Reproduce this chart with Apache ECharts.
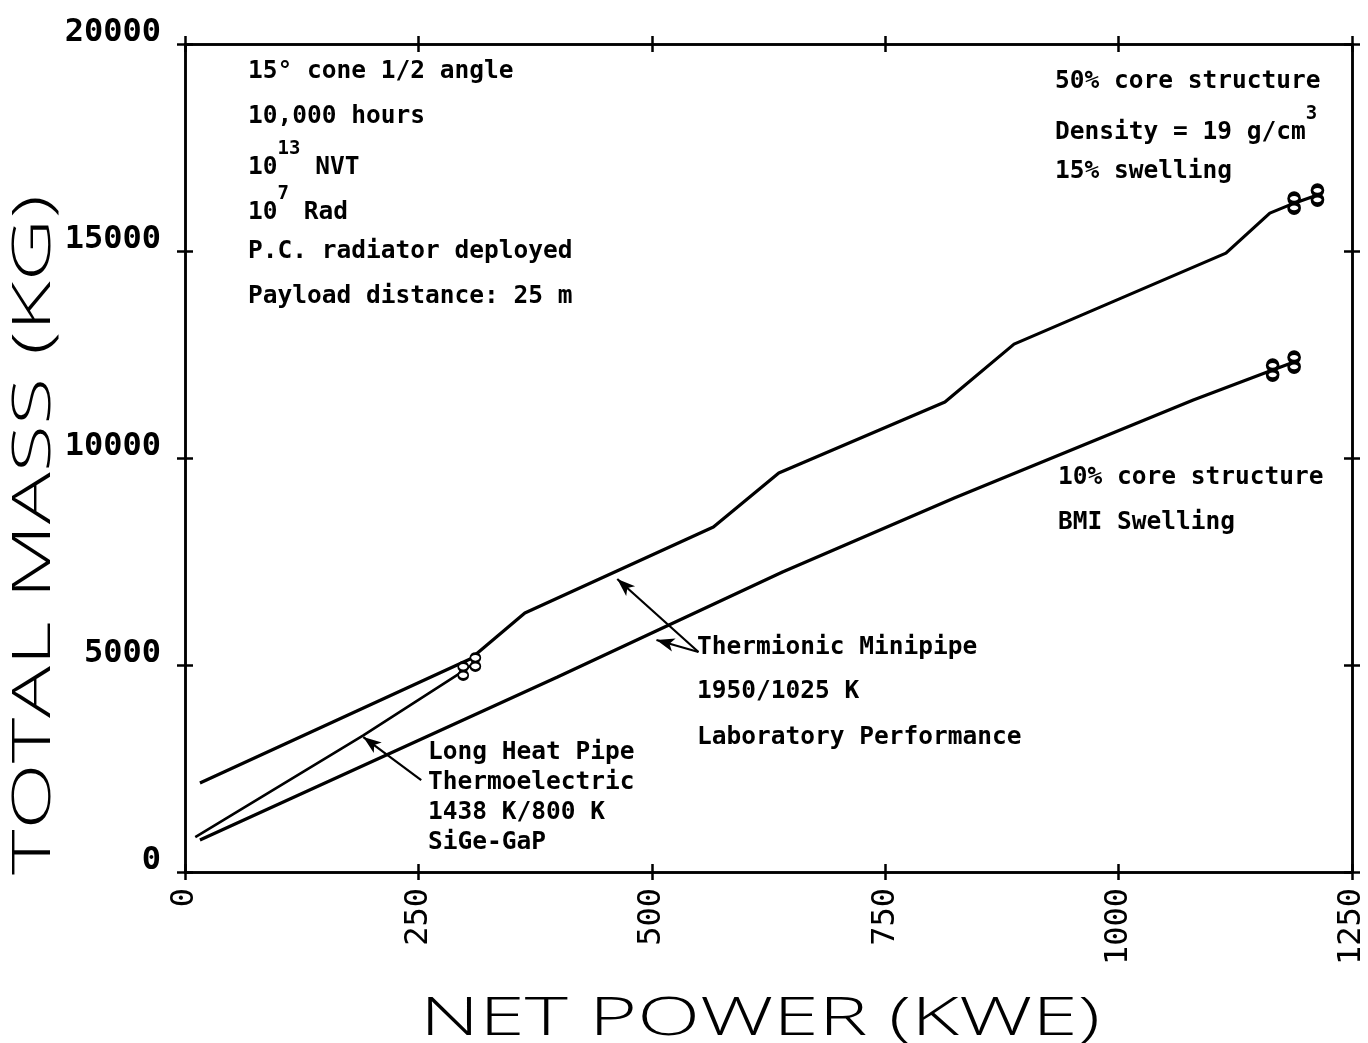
<!DOCTYPE html>
<html>
<head>
<meta charset="utf-8">
<script src="https://cdn.jsdelivr.net/npm/echarts@6/dist/echarts.min.js"></script>
<style>
html,body{margin:0;padding:0;background:#fff;}
#chart{width:1368px;height:1043px;}
</style>
</head>
<body>
<div id="chart"></div>
<script>
// ---- data ----
const xTicks = [0, 250, 500, 750, 1000, 1250];
const yTicks = [0, 5000, 10000, 15000, 20000];

// Thermionic Minipipe, 50% core structure, 15% swelling
const thermio50X = [16, 306, 364, 566, 636, 814, 888, 1115, 1162, 1188, 1213];
const thermio50Y = [2150, 5150, 6255, 8332, 9636, 11351, 12751, 14949, 15915, 16156, 16350];

// Thermionic Minipipe, 10% core structure, BMI swelling
const thermio10X = [16, 399, 640, 824, 1080, 1165, 1188];
const thermio10Y = [773, 4709, 7245, 9032, 11399, 12123, 12317];

// Long Heat Pipe Thermoelectric
const heatPipeX = [11, 191, 298, 311];
const heatPipeY = [845, 3300, 4854, 5071];

// arrows [fromX, fromY, toX, toY] in data units
const arrowHeatPipe = [253, 2222, 191, 3260];
const arrowThermA = [550, 5313, 463, 7076];
const arrowThermB = [550, 5313, 505, 5603];

// ---- chart ----
const chart = echarts.init(document.getElementById('chart'));
const EIGHT = 'path://M0,5A5,5,0,1,1,10,5A5,5,0,1,1,0,5ZM0,15A5,5,0,1,1,10,15A5,5,0,1,1,0,15Z';

function buildData(xs, ys, markLast, size, bw) {
  return xs.map((x, i) => {
    const item = { value: [x, ys[i]] };
    if (i >= xs.length - markLast) {
      item.symbol = EIGHT;
      item.symbolSize = size;
      item.itemStyle = { color: '#fff', borderColor: '#000', borderWidth: bw };
    }
    return item;
  });
}

const MONO = '"DejaVu Sans Mono", monospace';
const axisLineStyle = { color: '#000', width: 2.5 };
const plain = v => String(v);

function xAx(pos, inside, labels) {
  return {
    type: 'value', position: pos, min: xTicks[0], max: xTicks[xTicks.length - 1], interval: 250,
    axisLine: { show: true, onZero: false, lineStyle: axisLineStyle },
    axisTick: { show: true, inside: inside, length: 8, lineStyle: { color: '#000', width: 2.5 } },
    splitLine: { show: false },
    axisLabel: labels ? { show: true, rotate: 90, fontSize: 32, fontFamily: MONO, color: '#000', margin: 16, formatter: plain } : { show: false }
  };
}
function yAx(pos, inside, labels) {
  return {
    type: 'value', position: pos, min: yTicks[0], max: yTicks[yTicks.length - 1], interval: 5000,
    axisLine: { show: true, onZero: false, lineStyle: axisLineStyle },
    axisTick: { show: true, inside: inside, length: 8, lineStyle: { color: '#000', width: 2.5 } },
    splitLine: { show: false },
    axisLabel: labels ? { show: true, fontSize: 32, fontWeight: 'bold', fontFamily: MONO, color: '#000', margin: 24,
      verticalAlign: 'bottom', lineHeight: 22, formatter: plain } : { show: false }
  };
}

function arrowLine(a) {
  return [{ coord: [a[0], a[1]], symbol: 'none' }, { coord: [a[2], a[3]], symbol: 'arrow', symbolSize: [10, 18] }];
}

// measure for stretched axis titles
const TITLE_FONT = '300 54px "Open Sans", "DejaVu Sans", sans-serif';
const mctx = document.createElement('canvas').getContext('2d');
mctx.font = TITLE_FONT;
const xTitle = 'NET POWER (KWE)';
const yTitle = 'TOTAL MASS (KG)';
const sx = 680 / mctx.measureText(xTitle).width;
const sy = 680 / mctx.measureText(yTitle).width;

const ANN = 'bold 24.5px "DejaVu Sans Mono", monospace';
function ann(text, x, y) {
  return { type: 'text', x: x, y: y, style: { text: text, font: ANN, fill: '#000', align: 'left', verticalAlign: 'middle' } };
}
function annRich(text, x, y) {
  return { type: 'text', x: x, y: y, style: {
    text: text, fill: '#000', align: 'left', verticalAlign: 'middle',
    rich: {
      n: { font: ANN, lineHeight: 40, verticalAlign: 'bottom', fill: '#000' },
      s: { font: 'bold 19px "DejaVu Sans Mono", monospace', lineHeight: 40, verticalAlign: 'top', fill: '#000' }
    }
  } };
}

const option = {
  backgroundColor: '#fff',
  animation: false,
  grid: { left: 185, right: 7, top: 44, bottom: 171, containLabel: false },
  xAxis: [xAx('bottom', false, true), xAx('bottom', true, false), xAx('top', false, false), xAx('top', true, false)],
  yAxis: [yAx('left', false, true), yAx('left', true, false), yAx('right', false, false), yAx('right', true, false)],
  series: [
    { name: 'Thermionic 50% core', type: 'line', symbol: 'none', data: buildData(thermio50X, thermio50Y, 2, [11, 19], 3.5),
      lineStyle: { color: '#000', width: 3.2 }, z: 3 },
    { name: 'Thermionic 10% core', type: 'line', symbol: 'none', data: buildData(thermio10X, thermio10Y, 2, [11, 19], 3.5),
      lineStyle: { color: '#000', width: 3.2 }, z: 3 },
    { name: 'Long Heat Pipe', type: 'line', symbol: 'none', data: buildData(heatPipeX, heatPipeY, 2, [10, 17], 2.2),
      lineStyle: { color: '#000', width: 2.6 }, z: 4 },
    { name: 'arrows', type: 'line', data: [],
      markLine: { silent: true, animation: false, label: { show: false },
        lineStyle: { color: '#000', width: 2.2, type: 'solid' }, symbol: ['none', 'arrow'],
        data: [arrowLine(arrowHeatPipe), arrowLine(arrowThermA), arrowLine(arrowThermB)] } }
  ],
  graphic: [
    { type: 'text', x: 760, y: 1020, scaleX: sx, style: { text: xTitle, font: TITLE_FONT, fill: '#000', align: 'center', verticalAlign: 'middle' } },
    { type: 'text', x: 35, y: 535, rotation: Math.PI / 2, scaleX: sy, style: { text: yTitle, font: TITLE_FONT, fill: '#000', align: 'center', verticalAlign: 'middle' } },

    ann('15° cone 1/2 angle', 248, 72),
    ann('10,000 hours', 248, 117),
    annRich('{n|10}{s|13}{n| NVT}', 248, 160),
    annRich('{n|10}{s|7}{n| Rad}', 248, 205),
    ann('P.C. radiator deployed', 248, 252),
    ann('Payload distance: 25 m', 248, 297),

    ann('50% core structure', 1055, 82),
    annRich('{n|Density = 19 g/cm}{s|3}', 1055, 125),
    ann('15% swelling', 1055, 172),

    ann('10% core structure', 1058, 478),
    ann('BMI Swelling', 1058, 523),

    ann('Thermionic Minipipe', 697, 648),
    ann('1950/1025 K', 697, 692),
    ann('Laboratory Performance', 697, 738),

    ann('Long Heat Pipe', 428, 753),
    ann('Thermoelectric', 428, 783),
    ann('1438 K/800 K', 428, 813),
    ann('SiGe-GaP', 428, 843)
  ]
};
chart.setOption(option);
</script>
</body>
</html>
